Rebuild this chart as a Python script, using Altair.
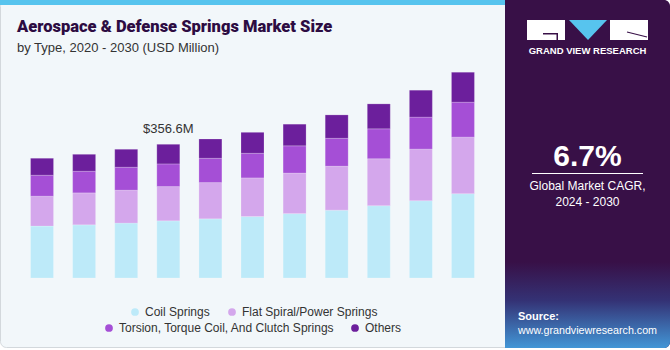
import altair as alt
import pandas as pd

# ---------------- data ----------------
years = ["2020", "2021", "2022", "2023", "2024", "2025", "2026", "2027", "2028", "2029", "2030"]
segments = ["Coil Springs", "Flat Spiral/Power Springs",
            "Torsion, Torque Coil, And Clutch Springs", "Others"]
coil = [138.4, 141.8, 146.4, 152.5, 157.8, 163.9, 171.6, 181.0, 192.9, 206.2, 224.9]
flat = [79.8, 85.2, 87.8, 91.3, 96.6, 103.0, 108.3, 117.1, 125.1, 137.6, 150.9]
torsion = [55.9, 57.7, 61.2, 60.4, 64.9, 65.7, 72.6, 74.5, 79.8, 85.2, 93.1]
others = [45.2, 45.2, 47.9, 52.4, 51.4, 55.9, 57.7, 62.3, 66.5, 71.8, 79.8]
colors = ["#bdeaf9", "#d4a7ec", "#a54fd6", "#6c1f9c"]

annot_year = "2023"
annot_label = "$356.6M"

title_text = "Aerospace & Defense Springs Market Size"
subtitle_text = "by Type, 2020 - 2030 (USD Million)"
cagr_text = "6.7%"
cagr_lines = ["Global Market CAGR,", "2024 - 2030"]
source_lines = ["Source:", "www.grandviewresearch.com"]
brand_text = "GRAND VIEW RESEARCH"

series = [coil, flat, torsion, others]
rows = []
for si, (name, vals) in enumerate(zip(segments, series)):
    for y, v in zip(years, vals):
        rows.append({"year": y, "segment": name, "value": v, "order": si})
df = pd.DataFrame(rows)

totals = {y: sum(s[i] for s in series) for i, y in enumerate(years)}
annot_df = pd.DataFrame([{"year": annot_year, "total": totals[annot_year], "label": annot_label}])

# ---------------- layout helpers ----------------
LEFT, TOP = 21, 53
W, H = 463, 225


def px(X):
    return X - LEFT


def py(Y):
    return Y - TOP


one = pd.DataFrame({"k": [0]})
FONT = "Liberation Sans"

xscale = alt.Scale(domain=years, paddingInner=0.454, paddingOuter=0.227)
yscale = alt.Scale(domain=[0, 600], nice=False)


def rect(x1, x2, y1, y2, **kw):
    return alt.Chart(one).mark_rect(**kw).encode(
        x=alt.value(px(x1)), x2=alt.value(px(x2)),
        y=alt.value(py(y1)), y2=alt.value(py(y2)))


def text(t, X, Y, **kw):
    return alt.Chart(one).mark_text(text=t, font=kw.pop("font", FONT), **kw).encode(
        x=alt.value(px(X)), y=alt.value(py(Y)))


layers = []
# backgrounds
layers.append(rect(0.5, 512, 0.5, 347.5, color="#f2f7fa", stroke="#d3d8dc", strokeWidth=1, cornerRadius=6))
layers.append(rect(0, 506, 0, 5, color="#57c4ee"))
layers.append(rect(505, 670, 0, 348, color="#381047", cornerRadiusTopRight=6, cornerRadiusBottomRight=6))
layers.append(rect(505, 670, 262, 348, cornerRadiusBottomRight=6,
                   color=alt.Gradient(gradient="linear", x1=0, x2=0, y1=0, y2=1,
                                      stops=[alt.GradientStop(color="#381047", offset=0),
                                             alt.GradientStop(color="#343275", offset=0.45),
                                             alt.GradientStop(color="#4296d6", offset=1)])))

# bars
bars = alt.Chart(df).mark_bar(stroke="#ffffff", strokeOpacity=0.25, strokeWidth=0.8).encode(
    x=alt.X("year:N", scale=xscale, sort=years,
            axis=alt.Axis(title=None, labelAngle=0, ticks=False, domain=False,
                          labelFontSize=13, labelColor="#333333", labelFont=FONT,
                          labelPadding=5)),
    y=alt.Y("value:Q", stack="zero", scale=yscale, axis=None),
    color=alt.Color("segment:N", scale=alt.Scale(domain=segments, range=colors), legend=None),
    order=alt.Order("order:Q", sort="ascending"),
)
layers.append(bars)

annot = alt.Chart(annot_df).mark_text(baseline="alphabetic", dy=-11, fontSize=13,
                                      font=FONT, color="#333333").encode(
    x=alt.X("year:N", scale=xscale, sort=years),
    y=alt.Y("total:Q", scale=yscale),
    text="label:N")
layers.append(annot)

# titles
layers.append(text(title_text, 17, 32, align="left", baseline="alphabetic", fontSize=16.5,
                   font="Roboto", fontWeight=900, color="#2d0c42"))
layers.append(text(subtitle_text, 17, 52, align="left", baseline="alphabetic", fontSize=13,
                   color="#333333"))

# legend (manual, two centered rows)
leg_pos = [(135, 312), (232, 312), (109, 328), (355, 328)]
for name, col, (cx, cy) in zip(segments, colors, leg_pos):
    layers.append(alt.Chart(one).mark_point(filled=True, shape="circle", size=60, color=col, opacity=1).encode(
        x=alt.value(px(cx)), y=alt.value(py(cy))))
    layers.append(text(name, cx + 10, cy, align="left", baseline="middle", fontSize=12, color="#333333"))

# right panel: logo
layers.append(rect(527, 565, 20, 40, color="#ffffff"))
layers.append(rect(543, 558, 33, 34.5, color="#381047"))
layers.append(rect(556.5, 558, 33, 40, color="#381047"))
layers.append(rect(610, 648, 20, 40, color="#ffffff"))
layers.append(alt.Chart(one).mark_rule(color="#381047", strokeWidth=1.2).encode(
    x=alt.value(px(627)), x2=alt.value(px(647)), y=alt.value(py(32)), y2=alt.value(py(37))))
layers.append(alt.Chart(one).mark_point(filled=True, shape="M-1,-0.53L1,-0.53L0,0.53Z",
                                        size=1444, color="#57c4ee", opacity=1, strokeWidth=0).encode(
    x=alt.value(px(588)), y=alt.value(py(30))))
layers.append(text(brand_text, 587.5, 54, align="center", baseline="alphabetic", fontSize=9.5,
                   fontWeight="bold", color="#ffffff"))

# right panel: CAGR
layers.append(text(cagr_text, 587.5, 166, align="center", baseline="alphabetic", fontSize=30,
                   fontWeight="bold", color="#ffffff"))
layers.append(alt.Chart(one).mark_rule(color="#ffffff", strokeWidth=1).encode(
    x=alt.value(px(532)), x2=alt.value(px(643)), y=alt.value(py(173.5))))
layers.append(text(cagr_lines[0], 587.5, 190, align="center", baseline="alphabetic", fontSize=12,
                   color="#ffffff"))
layers.append(text(cagr_lines[1], 587.5, 206, align="center", baseline="alphabetic", fontSize=12,
                   color="#ffffff"))

# right panel: source
layers.append(text(source_lines[0], 518, 320, align="left", baseline="alphabetic", fontSize=11,
                   fontWeight="bold", color="#ffffff"))
layers.append(text(source_lines[1], 518, 334, align="left", baseline="alphabetic", fontSize=10.7,
                   color="#ffffff"))

chart = alt.layer(*layers).properties(
    width=W, height=H,
    autosize=alt.AutoSizeParams(type="none"),
    padding={"left": LEFT, "top": TOP, "right": 670 - LEFT - W, "bottom": 350 - TOP - H},
    background="#ffffff",
).configure_view(stroke=None)

chart.save("out.html", embed_options={"renderer": "svg", "actions": False})
